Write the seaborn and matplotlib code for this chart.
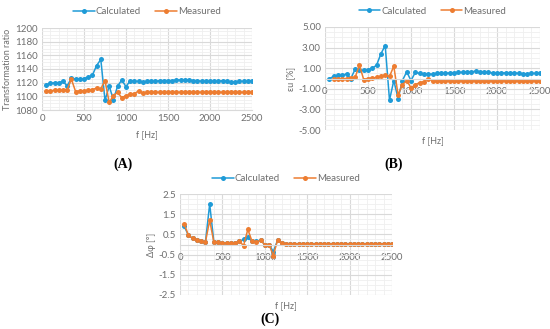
import numpy as np
import pandas as pd
import matplotlib
matplotlib.use('Agg')
import matplotlib.pyplot as plt
import seaborn as sns
from matplotlib.ticker import MultipleLocator, FixedLocator

freq = list(range(50, 2501, 50))

ratio_calc = [1117, 1119, 1120, 1120, 1122, 1115, 1127, 1125, 1125, 1126,
              1128, 1131, 1145, 1154, 1094, 1115, 1095, 1115, 1124, 1114,
              1123, 1122, 1122, 1121, 1122, 1122, 1122, 1123, 1123, 1123,
              1123, 1124, 1124, 1124, 1124, 1123, 1123, 1122, 1122, 1122,
              1122, 1122, 1123, 1122, 1121, 1121, 1122, 1122, 1122, 1123]
ratio_meas = [1108, 1108, 1109, 1109, 1109, 1110, 1125, 1107, 1108, 1108,
              1109, 1110, 1112, 1111, 1123, 1091, 1101, 1106, 1098, 1101,
              1103, 1104, 1108, 1105, 1106, 1106, 1106, 1106, 1106, 1106,
              1106, 1106, 1106, 1106, 1106, 1106, 1106, 1106, 1106, 1106,
              1106, 1106, 1106, 1106, 1106, 1106, 1106, 1106, 1106, 1106]

eu_calc = [0.00, 0.20, 0.30, 0.30, 0.45, 0.00, 0.90, 0.80, 0.80, 0.85,
           1.00, 1.30, 2.40, 3.20, -2.10, -0.20, -1.95, -0.20, 0.65, -0.20,
           0.60, 0.50, 0.45, 0.45, 0.40, 0.50, 0.50, 0.50, 0.55, 0.55,
           0.60, 0.60, 0.65, 0.65, 0.70, 0.65, 0.60, 0.60, 0.55, 0.55,
           0.55, 0.55, 0.55, 0.55, 0.50, 0.45, 0.45, 0.50, 0.50, 0.55]
eu_meas = [None, -0.05, -0.05, -0.05, 0.00, 0.05, 0.10, 1.30, -0.10, 0.00,
           0.05, 0.10, 0.20, 0.35, 0.20, 1.20, -1.60, -0.60, -0.20, -0.90,
           -0.60, -0.40, -0.30, 0.00, -0.20, -0.20, -0.20, -0.20, -0.20, -0.20,
           -0.20, -0.20, -0.20, -0.20, -0.20, -0.20, -0.20, -0.20, -0.20, -0.20,
           -0.20, -0.20, -0.20, -0.20, -0.20, -0.20, -0.20, -0.20, -0.20, -0.20]

phi_calc = [0.90, 0.45, 0.30, 0.20, 0.15, 0.12, 2.00, 0.10, 0.10, 0.08,
            0.08, 0.08, 0.08, 0.15, 0.25, 0.35, 0.15, 0.15, 0.20, 0.00,
            0.00, -0.35, 0.20, 0.05, 0.03, 0.03, 0.03, 0.03, 0.03, 0.03,
            0.03, 0.03, 0.03, 0.03, 0.03, 0.03, 0.03, 0.03, 0.03, 0.03,
            0.03, 0.03, 0.03, 0.03, 0.03, 0.03, 0.03, 0.03, 0.03, 0.03]
phi_meas = [1.00, 0.45, 0.30, 0.20, 0.15, 0.12, 1.20, 0.10, 0.10, 0.08,
            0.08, 0.08, 0.08, 0.15, -0.05, 0.75, 0.15, 0.12, 0.20, 0.00,
            0.00, -0.55, 0.20, 0.05, 0.03, 0.03, 0.03, 0.03, 0.03, 0.03,
            0.03, 0.03, 0.03, 0.03, 0.03, 0.03, 0.03, 0.03, 0.03, 0.03,
            0.03, 0.03, 0.03, 0.03, 0.03, 0.03, 0.03, 0.03, 0.03, 0.03]

ratio_ticks = [1080, 1100, 1120, 1140, 1160, 1180, 1200]
eu_ticks = [-5, -3, -1, 1, 3, 5]
phi_ticks = [-2.5, -1.5, -0.5, 0.5, 1.5, 2.5]

sns.set_style('white')
plt.rcParams['font.family'] = ['Lato', 'DejaVu Sans']

pal = {'Calculated': '#1f9bd7', 'Measured': '#ed7d31'}
grey = '#6e6e6e'


def make_df(calc, meas):
    d1 = pd.DataFrame({'f': freq, 'v': calc, 's': 'Calculated'})
    d2 = pd.DataFrame({'f': freq, 'v': meas, 's': 'Measured'})
    d = pd.concat([d1, d2], ignore_index=True)
    d['v'] = pd.to_numeric(d['v'])
    return d.dropna()


def panel(rect, df, yticks, minor, ylabel, fmt, zero_axis, leg_y):
    ax = fig.add_axes(rect)
    sns.lineplot(data=df, x='f', y='v', hue='s', palette=pal, marker='o',
                 markersize=3.6, markeredgewidth=0, linewidth=1.1, ax=ax)
    ax.set_xlim(0, 2500)
    ax.set_ylim(yticks[0], yticks[-1])
    ax.xaxis.set_major_locator(MultipleLocator(500))
    ax.xaxis.set_minor_locator(MultipleLocator(100))
    ax.yaxis.set_major_locator(FixedLocator(yticks))
    ax.yaxis.set_minor_locator(MultipleLocator(minor))
    ax.grid(True, which='major', color='#d9d9d9', linewidth=0.8)
    ax.grid(True, which='minor', color='#efefef', linewidth=0.6)
    ax.set_axisbelow(True)
    for s in ['top', 'right', 'left']:
        ax.spines[s].set_visible(False)
    ax.spines['bottom'].set_color('#d9d9d9')
    ax.spines['bottom'].set_linewidth(0.8)
    ax.yaxis.set_major_formatter(plt.FuncFormatter(lambda v, p: fmt.format(v)))
    ax.tick_params(which='both', length=0, labelsize=7, colors=grey, pad=3)
    ax.set_ylabel(ylabel, fontsize=6.5, color=grey, labelpad=2)
    ax.set_xlabel('f [Hz]', fontsize=6.5, color=grey, labelpad=5)
    if zero_axis:
        ax.spines['bottom'].set_position(('data', 0))
        ax.tick_params(axis='x', pad=6)
        ax.xaxis.set_label_coords(0.5, -0.06)
    ax.legend(loc='lower center', bbox_to_anchor=(0.5, leg_y), ncol=2,
              frameon=False, fontsize=7, handlelength=2.2, handletextpad=0.1,
              columnspacing=1.5, labelcolor=grey, borderaxespad=0)
    return ax


fig = plt.figure(figsize=(5.5, 3.29), dpi=100)

panel([42 / 550, 1 - 110 / 329, 210 / 550, 82 / 329],
      make_df(ratio_calc, ratio_meas), ratio_ticks, 5,
      'Transformation ratio', '{:.0f}', False, 1.1)
panel([325 / 550, 1 - 130 / 329, 215 / 550, 103 / 329],
      make_df(eu_calc, eu_meas), eu_ticks, 0.5,
      'εu [%]', '{:.2f}', True, 1.07)
panel([180 / 550, 1 - 295 / 329, 212 / 550, 101 / 329],
      make_df(phi_calc, phi_meas), phi_ticks, 0.25,
      'Δφ [°]', '{:.1f}', True, 1.07)

for x, y, t in [(123, 164, '(A)'), (394, 164, '(B)'), (270, 319, '(C)')]:
    fig.text(x / 550, 1 - y / 329, t, ha='center', va='center', fontsize=10,
             family='Liberation Serif', fontweight='bold', color='black')

fig.savefig('out.png', dpi=100)
